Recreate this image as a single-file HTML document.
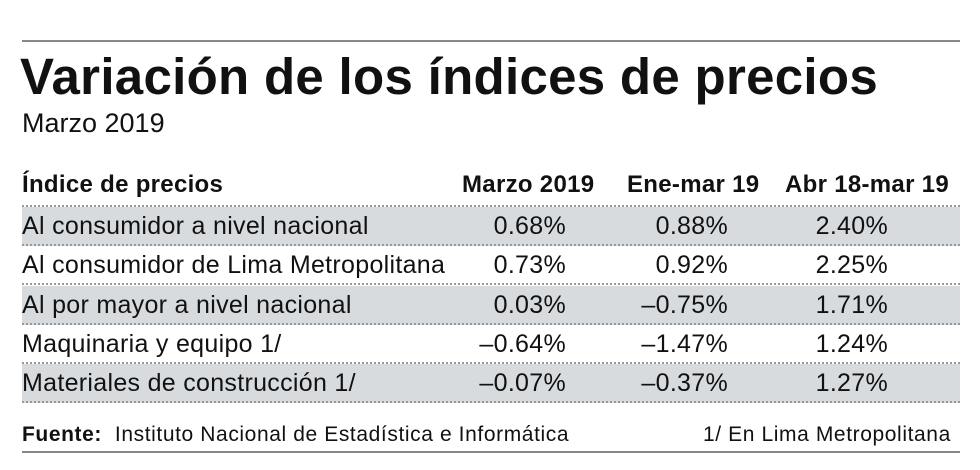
<!DOCTYPE html>
<html><head><meta charset="utf-8"><style>
body{margin:0;width:980px;height:470px;background:#fff;position:relative;overflow:hidden;font-family:"Liberation Sans",sans-serif;color:#111}
.abs{position:absolute;white-space:nowrap}
.line{position:absolute;left:22px;width:938px}
.row{position:absolute;left:22px;width:938px;height:39px;border-bottom:2px dotted #999;box-sizing:border-box}
.g{background:#d8dbde}
.cell{position:absolute;font-size:25px;top:5px;white-space:nowrap;letter-spacing:0.3px}
.num{text-align:right;width:140px}
.hd{font-weight:bold;font-size:24px;letter-spacing:0.3px}
</style></head><body>
<div class="line" style="top:40px;height:2px;background:#888"></div>
<div class="abs" style="left:20px;top:47px;font-size:51px;font-weight:bold;letter-spacing:0.3px">Variación de los índices de precios</div>
<div class="abs" style="left:22px;top:108px;font-size:27px">Marzo 2019</div>
<div class="row" style="top:166px;height:41px;border-bottom:2px dotted #999">
<div class="cell hd" style="left:0;top:5px">Índice de precios</div>
<div class="cell hd" style="left:440px;top:5px">Marzo 2019</div>
<div class="cell hd" style="left:605px;top:5px">Ene-mar 19</div>
<div class="cell hd" style="left:763px;top:5px">Abr 18-mar 19</div>
</div>
<div id="rows"></div>
<div class="abs" style="left:22px;top:423px;font-size:21px;letter-spacing:0.6px"><b>Fuente:</b>&nbsp; Instituto Nacional de Estadística e Informática</div>
<div class="abs" style="left:703px;top:423px;font-size:21px;letter-spacing:0.6px">1/ En Lima Metropolitana</div>
<div class="line" style="top:451px;height:2px;background:#888"></div>
<script>
const labels=["Al consumidor a nivel nacional","Al consumidor de Lima Metropolitana","Al por mayor a nivel nacional","Maquinaria y equipo 1/","Materiales de construcción 1/"];
const marzo=["0.68%","0.73%","0.03%","-0.64%","-0.07%"];
const enemar=["0.88%","0.92%","-0.75%","-1.47%","-0.37%"];
const abrmar=["2.40%","2.25%","1.71%","1.24%","1.27%"];
const c=document.getElementById('rows');
labels.forEach((l,i)=>{
 const r=document.createElement('div');
 r.className='row'+(i%2===0?' g':'');
 r.style.top=(207+i*39.3)+'px';
 
 
 const vals=[marzo[i],enemar[i],abrmar[i]],rights=[544,706,866];
 let h='<div class="cell" style="left:0">'+l+'</div>';
 vals.forEach((v,j)=>{h+='<div class="cell num" style="left:'+(rights[j]-140)+'px">'+v.replace('-','–')+'</div>';});
 r.innerHTML=h;
 c.appendChild(r);
});
</script>
</body></html>
